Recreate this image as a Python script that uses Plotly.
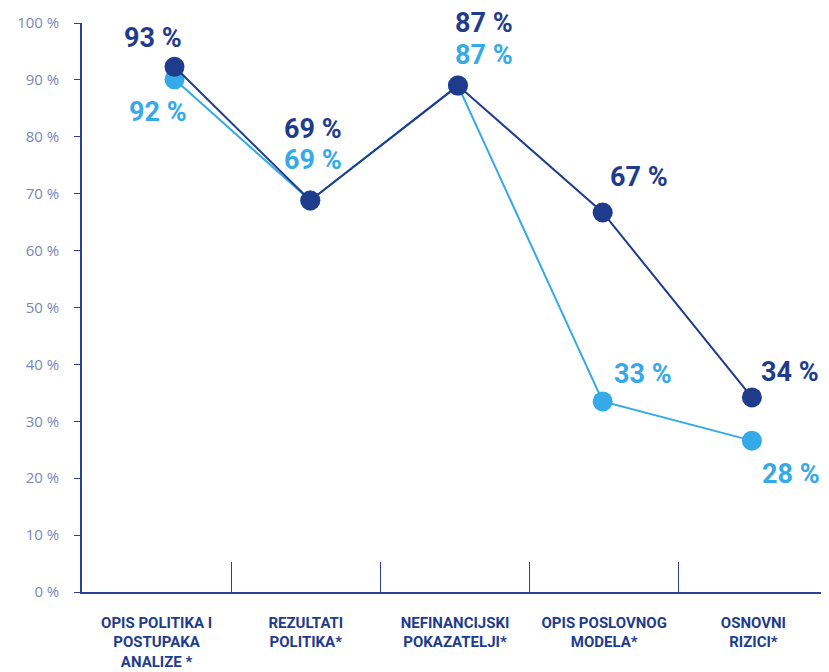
import plotly.graph_objects as go

categories = ["OPIS POLITIKA I<br>POSTUPAKA<br>ANALIZE *", "REZULTATI<br>POLITIKA*",
              "NEFINANCIJSKI<br>POKAZATELJI*", "OPIS POSLOVNOG<br>MODELA*", "OSNOVNI<br>RIZICI*"]
cat_centers = [0.5, 1.5, 2.5, 3.5, 4.5]
dividers = [1, 2, 3, 4, 5]
point_x = [0.62, 1.53, 2.52, 3.49, 4.49]
dark_values = [92.3, 68.8, 89.0, 66.7, 34.2]
light_values = [90.1, 68.8, 89.0, 33.5, 26.6]
dark_labels = ["93 %", "69 %", "87 %", "67 %", "34 %"]
light_labels = ["92 %", "69 %", "87 %", "33 %", "28 %"]
y_ticks = [0, 10, 20, 30, 40, 50, 60, 70, 80, 90, 100]
y_ticktext = ["%d %%" % v for v in y_ticks]

DARK = "#1f3c8c"
LIGHT = "#36a9e8"
AXIS = "#2b3f94"

dark_offsets = [(-22, 29), (3, 72), (26, 63), (36, 35), (38, 25)]
light_offsets = [(-17, -33), (3, 41), (26, 31), (40, 27), (39, -33)]

LABEL_FONT = "Roboto"

fig = go.Figure()
fig.add_trace(go.Scatter(x=point_x, y=light_values, mode="lines+markers",
                         line=dict(color=LIGHT, width=2),
                         marker=dict(color=LIGHT, size=20), showlegend=False))
fig.add_trace(go.Scatter(x=point_x, y=dark_values, mode="lines+markers",
                         line=dict(color=DARK, width=2),
                         marker=dict(color=DARK, size=20), showlegend=False))

for x, y, t, (dx, dy) in zip(point_x, dark_values, dark_labels, dark_offsets):
    fig.add_annotation(x=x, y=y, text="<b>%s</b>" % t, showarrow=False,
                       xshift=dx, yshift=dy,
                       font=dict(family=LABEL_FONT, size=27, color=DARK))
for x, y, t, (dx, dy) in zip(point_x, light_values, light_labels, light_offsets):
    fig.add_annotation(x=x, y=y, text="<b>%s</b>" % t, showarrow=False,
                       xshift=dx, yshift=dy,
                       font=dict(family=LABEL_FONT, size=27, color=LIGHT))

fig.update_layout(
    width=821, height=664,
    margin=dict(l=74, r=1, t=15, b=80),
    paper_bgcolor="white", plot_bgcolor="white",
    xaxis=dict(range=[0, 5], tickmode="array", tickvals=cat_centers,
               ticktext=["<b>%s</b>" % c for c in categories],
               ticks="", showgrid=False, zeroline=False, showline=True,
               linecolor=AXIS, linewidth=1.5, ticklabelstandoff=16, automargin=False,
               tickfont=dict(family="Liberation Sans Narrow, Roboto", size=15, color=DARK),
               minor=dict(tickmode="array", tickvals=dividers, ticks="inside",
                          ticklen=30, tickcolor=AXIS, tickwidth=1.2, showgrid=False)),
    yaxis=dict(range=[0, 100], tickmode="array", tickvals=y_ticks, ticktext=y_ticktext,
               ticks="outside", ticklen=6, tickcolor=AXIS, showgrid=False,
               zeroline=False, showline=True, linecolor=AXIS, linewidth=1.5,
               ticklabelstandoff=12, automargin=False,
               tickfont=dict(family="Open Sans", size=15, color="#7b86b8")),
)

fig.write_html("out.html")
